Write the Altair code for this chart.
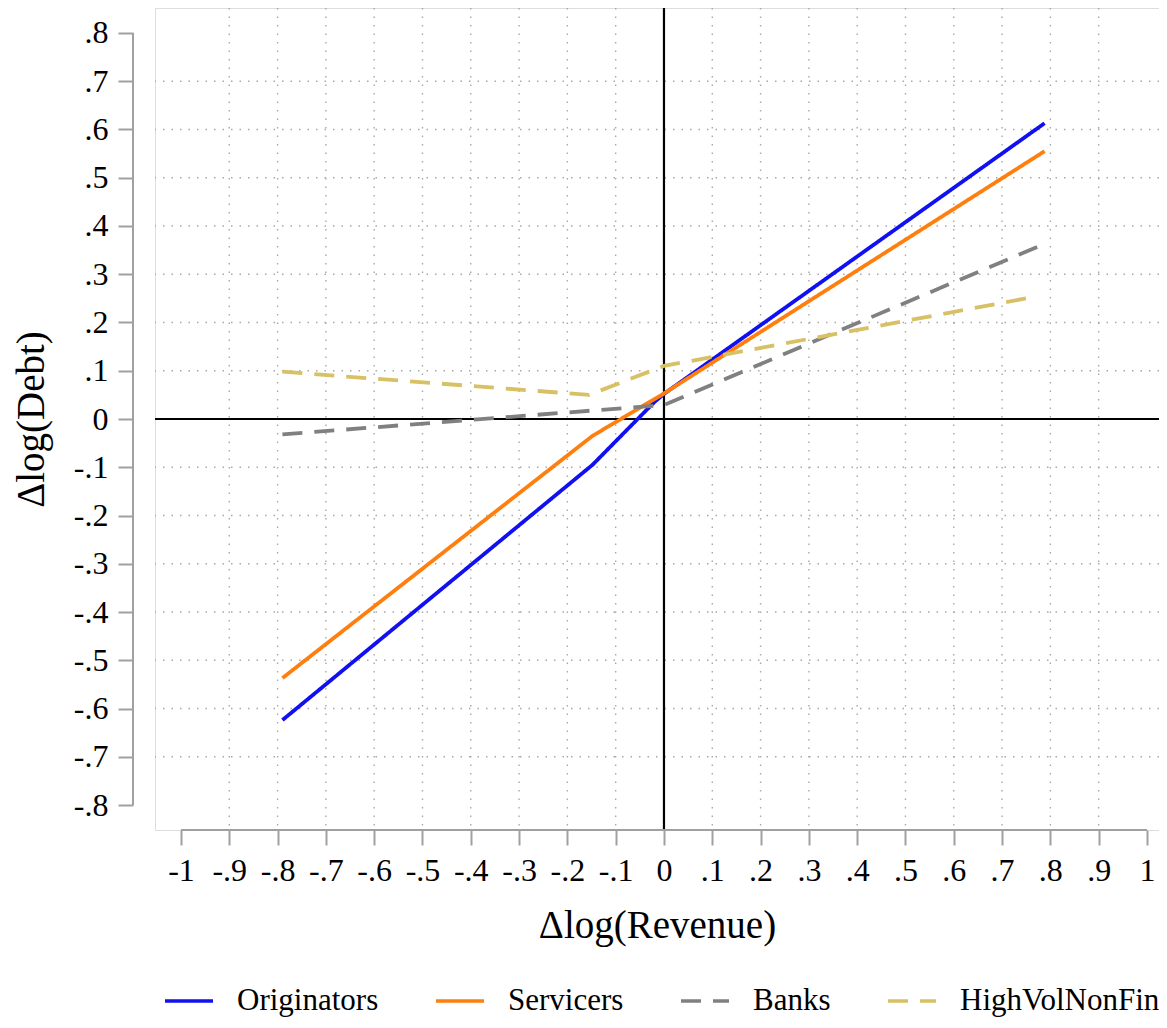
import altair as alt
import pandas as pd

# ---- data ----
series_names = ["Originators", "Servicers", "Banks", "HighVolNonFin"]
series_colors = ["#1010F0", "#FF7F0E", "#808080", "#D8C064"]

orig_x = [-0.79, -0.148, -0.02, 0.0, 0.788]
orig_y = [-0.624, -0.095, 0.035, 0.052, 0.613]

serv_x = [-0.79, -0.148, 0.0, 0.788]
serv_y = [-0.537, -0.035, 0.053, 0.555]

bank_x = [-0.79, 0.0, 0.79]
bank_y = [-0.032, 0.029, 0.364]

hvnf_x = [-0.79, -0.155, 0.0, 0.766]
hvnf_y = [0.098, 0.05, 0.11, 0.253]

x_ticks = [-1.0, -0.9, -0.8, -0.7, -0.6, -0.5, -0.4, -0.3, -0.2, -0.1, 0.0,
           0.1, 0.2, 0.3, 0.4, 0.5, 0.6, 0.7, 0.8, 0.9, 1.0]
y_ticks = [-0.8, -0.7, -0.6, -0.5, -0.4, -0.3, -0.2, -0.1, 0.0,
           0.1, 0.2, 0.3, 0.4, 0.5, 0.6, 0.7, 0.8]
x_grid = [-0.9, -0.8, -0.7, -0.6, -0.5, -0.4, -0.3, -0.2, -0.1,
          0.1, 0.2, 0.3, 0.4, 0.5, 0.6, 0.7, 0.8, 0.9]
y_grid = [-0.7, -0.6, -0.5, -0.4, -0.3, -0.2, -0.1,
          0.1, 0.2, 0.3, 0.4, 0.5, 0.6, 0.7]

rows = []
for name, xs, ys in [("Originators", orig_x, orig_y), ("Servicers", serv_x, serv_y),
                     ("Banks", bank_x, bank_y), ("HighVolNonFin", hvnf_x, hvnf_y)]:
    for i, (a, b) in enumerate(zip(xs, ys)):
        rows.append({"series": name, "x": a, "y": b, "o": i})
lines_df = pd.DataFrame(rows)
xgrid_df = pd.DataFrame({"x": x_grid})
ygrid_df = pd.DataFrame({"y": y_grid})

FONT = "Liberation Serif"
W, H = 1004, 822
XDOM = [-1.0538, 1.0249]
YDOM = [-0.8518, 0.8518]
label_expr = "replace(replace(format(datum.value, '.1~f'), '\u2212', '-'), '0.', '.')"

xscale = alt.Scale(domain=XDOM, nice=False, zero=False)
yscale = alt.Scale(domain=YDOM, nice=False, zero=False)

grid_style = dict(color="#a8a8a8", strokeWidth=1.4, strokeDash=[1.5, 7])

vgrid = alt.Chart(xgrid_df).mark_rule(**grid_style).encode(
    x=alt.X("x:Q", scale=xscale)
)
hgrid = alt.Chart(ygrid_df).mark_rule(**grid_style).encode(
    y=alt.Y("y:Q", scale=yscale)
)

zero_v = alt.Chart().mark_rule(color="black", strokeWidth=2.2).encode(x=alt.datum(0))
zero_h = alt.Chart().mark_rule(color="black", strokeWidth=2.2).encode(y=alt.datum(0))

ydomain = alt.Chart().mark_rule(color="#a0a0a0", strokeWidth=2).encode(
    x=alt.value(-22), y=alt.datum(0.8), y2=alt.datum(-0.8)
)
xdomain = alt.Chart().mark_rule(color="#a0a0a0", strokeWidth=2).encode(
    y=alt.value(H), x=alt.datum(-1), x2=alt.datum(1)
)

legend_spec = alt.Legend(title=None, orient="none", legendX=8, legendY=967,
                         direction="horizontal", columns=4, columnPadding=50,
                         labelOffset=22, symbolSize=2304, symbolStrokeWidth=3.5,
                         labelFont=FONT, labelFontSize=31, labelColor="black",
                         padding=0, labelLimit=400)

lines = alt.Chart(lines_df).mark_line(strokeWidth=3.8).encode(
    x=alt.X("x:Q", scale=xscale,
            axis=alt.Axis(values=x_ticks, labelExpr=label_expr, grid=False, domain=False,
                          tickColor="#a0a0a0", tickWidth=2, tickSize=15, labelPadding=10,
                          labelFont=FONT, labelFontSize=32, labelColor="black",
                          title="Δlog(Revenue)", titleFont=FONT, titleFontSize=39,
                          titleFontWeight="normal", titleColor="black", titlePadding=20,
                          labelFlush=False, labelOverlap=False)),
    y=alt.Y("y:Q", scale=yscale,
            axis=alt.Axis(values=y_ticks, labelExpr=label_expr, grid=False, domain=False,
                          offset=22, tickColor="#a0a0a0", tickWidth=2, tickSize=15,
                          labelPadding=10, labelFont=FONT, labelFontSize=32,
                          labelColor="black", title="Δlog(Debt)", titleFont=FONT,
                          titleFontSize=39, titleFontWeight="normal", titleColor="black",
                          titlePadding=22, labelFlush=False, labelOverlap=False)),
    color=alt.Color("series:N",
                    scale=alt.Scale(domain=series_names, range=series_colors),
                    legend=legend_spec),
    strokeDash=alt.StrokeDash("series:N",
                              scale=alt.Scale(domain=series_names,
                                              range=[[1, 0], [1, 0], [20, 12], [20, 12]]),
                              legend=legend_spec),
    order="o:Q",
)

chart = alt.layer(vgrid, hgrid, zero_v, zero_h, ydomain, xdomain, lines).properties(
    width=W, height=H,
    autosize=alt.AutoSizeParams(type="none"),
    padding={"left": 147, "top": 0, "right": 0, "bottom": 190},
).configure_view(stroke=None).configure(
    background="white", font=FONT
).configure_legend(labelFont=FONT, labelFontSize=31, labelColor="black")

chart.save("out.html", embed_options={"renderer": "svg", "actions": False})
